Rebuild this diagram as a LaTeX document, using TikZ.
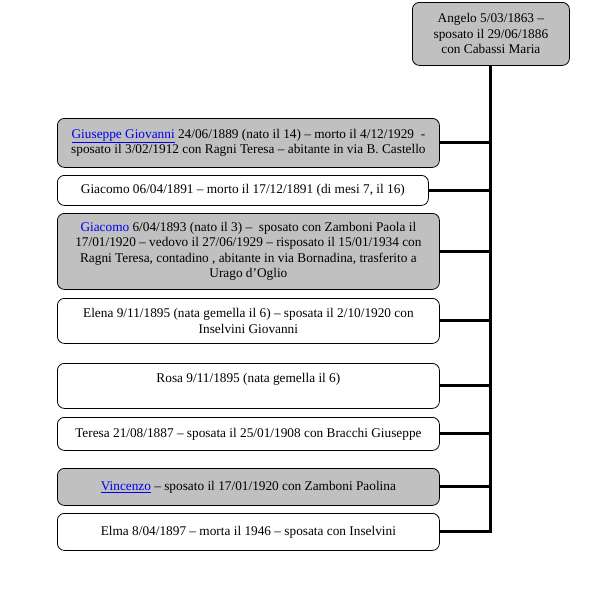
\documentclass[tikz,border=0pt]{standalone}
\usepackage{fontspec}
\setmainfont{Liberation Serif}
\definecolor{boxgray}{RGB}{192,192,192}
\definecolor{linkblue}{RGB}{0,0,238}
\newcommand{\lnk}[1]{\textcolor{linkblue}{\underline{#1}}}
\begin{document}
\begin{tikzpicture}[x=1pt,y=-1pt,
 person/.style={draw=black, line width=0.8pt, rounded corners=7pt, align=center,
   inner sep=2pt, font=\fontsize{13.3}{15.5}\selectfont, anchor=north west},
 grayp/.style={person, fill=boxgray},
 whitep/.style={person, fill=white},
 conn/.style={line width=3pt}]
\useasboundingbox (0,0) rectangle (590,590);
\node[grayp, minimum width=157pt, minimum height=63pt] (angelo) at (412,2)
  {Angelo 5/03/1863 –\\sposato il 29/06/1886\\con Cabassi Maria};
\node[grayp, minimum width=382pt, minimum height=49pt] (b1) at (57,118)
  {\lnk{Giuseppe Giovanni} 24/06/1889 (nato il 14) – morto il 4/12/1929 \ -\\sposato il 3/02/1912 con Ragni Teresa – abitante in via B. Castello};
\node[whitep, minimum width=371pt, minimum height=30pt] (b2) at (57,175)
  {Giacomo 06/04/1891 – morto il 17/12/1891 (di mesi 7, il 16)};
\node[grayp, minimum width=382pt, minimum height=76pt] (b3) at (57,213)
  {\textcolor{linkblue}{Giacomo} 6/04/1893 (nato il 3) – \ sposato con Zamboni Paola il\\17/01/1920 – vedovo il 27/06/1929 – risposato il 15/01/1934 con\\Ragni Teresa, contadino , abitante in via Bornadina, trasferito a\\Urago d’Oglio};
\node[whitep, minimum width=382pt, minimum height=45pt] (b4) at (57,298)
  {Elena 9/11/1895 (nata gemella il 6) – sposata il 2/10/1920 con\\Inselvini Giovanni};
\node[whitep, minimum width=382pt, minimum height=45pt] (b5) at (57,363)
  {Rosa 9/11/1895 (nata gemella il 6)\\\mbox{}};
\node[whitep, minimum width=382pt, minimum height=33pt] (b6) at (57,417)
  {Teresa 21/08/1887 – sposata il 25/01/1908 con Bracchi Giuseppe};
\node[grayp, minimum width=382pt, minimum height=37pt] (b7) at (57,468)
  {\lnk{Vincenzo} – sposato il 17/01/1920 con Zamboni Paolina};
\node[whitep, minimum width=382pt, minimum height=37pt] (b8) at (57,513)
  {Elma 8/04/1897 – morta il 1946 – sposata con Inselvini};
\draw[conn] (angelo.south) |- (b8.east);
\foreach \n in {b1,b2,b3,b4,b5,b6,b7}
  \draw[conn] (\n.east) -- (\n.east -| angelo.south);
\end{tikzpicture}
\end{document}
